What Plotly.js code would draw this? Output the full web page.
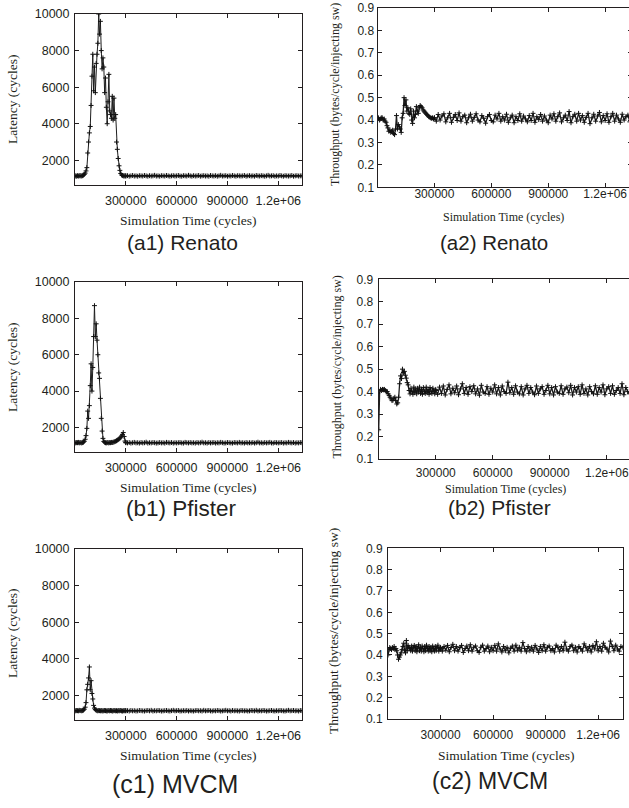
<!DOCTYPE html>
<html><head><meta charset="utf-8">
<script src="https://cdn.plot.ly/plotly-3.0.1.min.js"></script>
<style>html,body{margin:0;padding:0;overflow:hidden;background:#fff;width:629px;height:808px}#chart{width:636px;height:808px}</style>
</head><body><div id="chart"></div>
<script>
// ---- sampling of the simulation time axis ----
const EARLY_START = 0, EARLY_STEP = 5000;      // 0 .. 300000
const LATE_START = 300000, LATE_STEP = 10000;  // 300000 .. 1340000
const X_RANGE = [0, 1340000];
const xTickVals = [300000, 600000, 900000, 1200000];
const xTickText = ['300000', '600000', '900000', '1.2e+06'];
const latTickVals = [2000, 4000, 6000, 8000, 10000];
const latRange = [650, 10000];
const thrTickVals = [0.1, 0.2, 0.3, 0.4, 0.5, 0.6, 0.7, 0.8, 0.9];
const thrTickText = ['0.1', '0.2', '0.3', '0.4', '0.5', '0.6', '0.7', '0.8', '0.9'];
const thrRange = [0.1, 0.9];

// ---- latency (cycles) ----
const renatoLatEarly = [1140,1150,1130,1160,1140,1150,1170,1140,1150,1160,
 1190,1230,1300,1420,1600,2400,3000,3500,3850,5000,
 6600,7800,5800,7100,5700,7300,7800,8400,10000,8900,
 9600,8000,7000,7600,7100,5700,6500,4900,4000,5200,
 6700,4700,4500,4300,5500,4200,5400,4300,4500,3000,
 2600,2100,1700,1450,1280,1200,1170,1150,1140,1160,
 1150];
const renatoLatLate = [1140,1160,1130,1150,1170,1140,1150,1130,1160,1150,
 1140,1170,1150,1130,1160,1140,1150,1180,1140,1150,
 1130,1160,1150,1140,1170,1150,1130,1150,1160,1140,
 1150,1170,1140,1130,1160,1150,1140,1180,1150,1130,
 1160,1140,1150,1170,1130,1150,1160,1140,1150,1130,
 1170,1150,1140,1160,1130,1150,1180,1140,1150,1160,
 1130,1150,1140,1170,1150,1130,1160,1150,1140,1150,
 1170,1130,1150,1160,1140,1150,1130,1170,1150,1140,
 1160,1150,1130,1150,1180,1140,1150,1160,1130,1150,
 1140,1170,1150,1130,1160,1150,1140,1150,1170,1130,
 1150,1160,1140,1150,1150];
const pfisterLatEarly = [1160,1150,1170,1160,1180,1150,1170,1160,1150,1170,
 1190,1240,1350,1550,1950,2900,2500,3200,4300,5500,
 4000,5300,7000,8700,7000,7700,6800,6000,5000,4700,
 3600,2500,1800,1400,1230,1180,1160,1150,1170,1160,
 1150,1170,1160,1180,1170,1190,1200,1220,1240,1270,
 1300,1330,1370,1410,1460,1530,1620,1720,1500,1250,
 1170];
const pfisterLatLate = [1160,1150,1170,1140,1160,1180,1150,1160,1140,1170,
 1150,1160,1190,1140,1160,1150,1170,1160,1140,1150,
 1170,1150,1160,1140,1180,1160,1150,1170,1140,1160,
 1150,1160,1170,1150,1140,1180,1160,1150,1170,1150,
 1160,1140,1170,1150,1160,1190,1150,1160,1140,1170,
 1150,1160,1170,1140,1160,1150,1180,1160,1140,1150,
 1170,1160,1150,1140,1170,1160,1150,1180,1150,1160,
 1140,1170,1150,1160,1150,1170,1140,1160,1190,1150,
 1160,1140,1170,1150,1160,1180,1150,1140,1170,1160,
 1150,1160,1170,1140,1160,1150,1180,1160,1150,1170,
 1140,1160,1150,1170,1160];
const mvcmLatEarly = [1160,1150,1170,1160,1150,1180,1160,1170,1150,1170,
 1190,1240,1350,1600,2300,2600,2950,3550,2300,2800,
 2100,1800,1450,1300,1220,1180,1160,1150,1170,1160,
 1150,1170,1140,1160,1150,1170,1160,1150,1140,1170,
 1160,1150,1170,1160,1140,1150,1170,1160,1150,1160,
 1140,1170,1150,1160,1170,1150,1140,1160,1150,1170,
 1160];
const mvcmLatLate = [1150,1160,1140,1170,1150,1160,1140,1150,1170,1160,
 1150,1140,1160,1170,1150,1180,1140,1160,1150,1170,
 1160,1140,1150,1160,1170,1150,1140,1160,1180,1150,
 1160,1170,1140,1150,1160,1150,1170,1140,1160,1150,
 1140,1160,1170,1150,1160,1140,1180,1150,1160,1170,
 1150,1140,1160,1150,1170,1160,1140,1150,1160,1180,
 1150,1160,1140,1170,1150,1160,1150,1140,1170,1160,
 1150,1160,1140,1150,1170,1160,1150,1180,1140,1160,
 1150,1170,1160,1140,1150,1160,1170,1150,1140,1160,
 1150,1170,1160,1150,1140,1160,1180,1150,1160,1170,
 1150,1160,1140,1170,1160];

// ---- throughput (bytes/cycle/injecting sw) ----
const renatoThrEarly = [0.40,0.41,0.40,0.405,0.41,0.41,0.40,0.405,0.395,0.39,
 0.375,0.365,0.35,0.355,0.345,0.35,0.355,0.34,0.335,0.36,
 0.42,0.36,0.38,0.37,0.36,0.345,0.41,0.43,0.50,0.465,
 0.49,0.44,0.455,0.43,0.425,0.45,0.40,0.385,0.44,0.41,
 0.425,0.46,0.44,0.43,0.455,0.465,0.46,0.455,0.445,0.44,
 0.435,0.43,0.425,0.42,0.415,0.413,0.41,0.408,0.41,0.405,
 0.41];
const renatoThrLate = [0.410,0.395,0.425,0.400,0.418,0.428,0.392,0.410,0.430,0.390,
 0.412,0.425,0.398,0.432,0.395,0.415,0.422,0.388,0.410,0.426,
 0.395,0.412,0.428,0.400,0.392,0.420,0.408,0.386,0.415,0.425,
 0.398,0.392,0.422,0.405,0.430,0.395,0.415,0.400,0.426,0.390,
 0.410,0.422,0.388,0.415,0.398,0.428,0.395,0.418,0.405,0.392,
 0.420,0.398,0.430,0.390,0.415,0.402,0.425,0.395,0.418,0.400,
 0.388,0.422,0.405,0.428,0.395,0.415,0.432,0.392,0.410,0.422,
 0.398,0.438,0.388,0.415,0.426,0.395,0.430,0.400,0.420,0.390,
 0.412,0.430,0.384,0.410,0.426,0.395,0.418,0.434,0.392,0.420,
 0.398,0.428,0.390,0.415,0.430,0.395,0.422,0.405,0.390,0.426,
 0.400,0.415,0.422,0.392,0.412];
const pfisterThrEarly = [0.23,0.40,0.41,0.405,0.41,0.408,0.41,0.405,0.40,0.40,
 0.39,0.383,0.375,0.368,0.36,0.362,0.37,0.375,0.36,0.345,
 0.35,0.375,0.435,0.47,0.458,0.50,0.485,0.49,0.473,0.46,
 0.44,0.43,0.405,0.39,0.415,0.40,0.388,0.42,0.395,0.412,
 0.39,0.415,0.398,0.42,0.392,0.41,0.388,0.418,0.40,0.392,
 0.42,0.395,0.41,0.388,0.418,0.40,0.392,0.415,0.40,0.39,
 0.41];
const pfisterThrLate = [0.405,0.388,0.420,0.392,0.425,0.385,0.410,0.430,0.390,0.415,
 0.395,0.425,0.386,0.412,0.435,0.392,0.418,0.388,0.422,0.400,
 0.426,0.390,0.412,0.384,0.428,0.398,0.392,0.422,0.388,0.415,
 0.398,0.430,0.390,0.418,0.385,0.425,0.400,0.392,0.442,0.395,
 0.418,0.388,0.426,0.398,0.390,0.422,0.385,0.412,0.428,0.392,
 0.418,0.398,0.386,0.425,0.392,0.412,0.422,0.388,0.405,0.428,
 0.390,0.418,0.385,0.422,0.398,0.392,0.426,0.388,0.412,0.420,
 0.395,0.428,0.385,0.418,0.398,0.422,0.388,0.430,0.392,0.412,
 0.385,0.422,0.400,0.390,0.426,0.388,0.418,0.398,0.430,0.386,
 0.412,0.422,0.392,0.426,0.388,0.405,0.418,0.392,0.435,0.386,
 0.418,0.400,0.390,0.422,0.405];
const mvcmThrEarly = [0.40,0.425,0.435,0.43,0.425,0.435,0.43,0.44,0.425,0.43,
 0.42,0.40,0.38,0.39,0.40,0.41,0.425,0.44,0.455,0.42,
 0.41,0.468,0.42,0.445,0.435,0.43,0.42,0.442,0.418,0.436,
 0.445,0.42,0.44,0.415,0.432,0.448,0.42,0.436,0.418,0.442,
 0.43,0.415,0.44,0.42,0.446,0.43,0.418,0.44,0.42,0.436,
 0.415,0.442,0.43,0.418,0.44,0.42,0.436,0.446,0.418,0.43,
 0.435];
const mvcmThrLate = [0.430,0.418,0.440,0.422,0.445,0.415,0.435,0.450,0.420,0.440,
 0.418,0.435,0.445,0.412,0.430,0.442,0.420,0.448,0.418,0.436,
 0.442,0.420,0.412,0.436,0.446,0.418,0.430,0.442,0.415,0.436,
 0.420,0.445,0.418,0.452,0.428,0.414,0.440,0.420,0.436,0.410,
 0.430,0.442,0.418,0.446,0.422,0.436,0.418,0.458,0.430,0.415,
 0.440,0.420,0.436,0.418,0.445,0.428,0.412,0.440,0.420,0.448,
 0.418,0.436,0.442,0.420,0.430,0.414,0.446,0.436,0.418,0.440,
 0.420,0.460,0.428,0.418,0.440,0.446,0.420,0.436,0.414,0.440,
 0.430,0.418,0.452,0.436,0.420,0.440,0.414,0.445,0.428,0.462,
 0.420,0.440,0.418,0.455,0.436,0.428,0.414,0.465,0.440,0.420,
 0.446,0.428,0.418,0.440,0.436];

const captions = ['(a1) Renato', '(a2) Renato', '(b1) Pfister', '(b2) Pfister', '(c1) MVCM', '(c2) MVCM'];
const latTitle = 'Latency (cycles)';
const thrTitle = 'Throughput (bytes/cycle/injecting sw)';
const xTitle = 'Simulation Time (cycles)';

// ---- layout geometry (pixels) ----
const W = 636, H = 808;
const X = px => px / W, Y = py => 1 - py / H;
const SANS = '"Liberation Sans", Arial, sans-serif';
const SERIF = '"Liberation Serif", "Times New Roman", serif';
const INK = '#231f20';

const panels = [
  {early: renatoLatEarly, late: renatoLatLate, kind: 'lat', box: [75, 302, 14, 185],
   cap: [182, 243], cf: 21, yt: [12, 99], xt: [188.5, 220], tf: 13.5, xs: 4, ys: 2, tick: 12.5, lw: 1},
  {early: renatoThrEarly, late: renatoThrLate, kind: 'thr', box: [377.5, 631.7, 8, 187.3],
   cap: [494, 242], cf: 20.5, yt: [335, 95], xt: [503, 217], tf: 12, yf: 12, xs: -5, ys: 0, tick: 12, lw: 1.3},
  {early: pfisterLatEarly, late: pfisterLatLate, kind: 'lat', box: [75, 302, 282, 452],
   cap: [181, 508], cf: 22.5, yt: [12, 367], xt: [188.5, 487], tf: 13.5, xs: 4, ys: 2, tick: 12.5, lw: 1},
  {early: pfisterThrEarly, late: pfisterThrLate, kind: 'thr', box: [378.7, 633.4, 279.3, 459],
   cap: [499.5, 507], cf: 21, yt: [336.5, 367], xt: [505, 489], tf: 12, yf: 12, xs: 3, ys: 2, tick: 12, lw: 1.3},
  {early: mvcmLatEarly, late: mvcmLatLate, kind: 'lat', box: [75, 302, 549, 720],
   cap: [175, 784], cf: 25, yt: [12, 633], xt: [188.5, 755], tf: 13.5, xs: 4, ys: 2, tick: 12.5, lw: 1},
  {early: mvcmThrEarly, late: mvcmThrLate, kind: 'thr', box: [388, 622.7, 548.3, 719],
   cap: [490, 781], cf: 23, yt: [333, 631], xt: [506, 755], tf: 13.5, yf: 13.5, xs: 5, ys: 2, tick: 12, lw: 1.3},
];

const data = [];
const layout = {
  width: W, height: H, margin: {l: 0, r: 0, t: 0, b: 0},
  paper_bgcolor: '#fff', plot_bgcolor: '#fff', showlegend: false,
  font: {family: SANS, color: INK}, annotations: []
};

panels.forEach((p, i) => {
  const n = i + 1, sfx = n === 1 ? '' : String(n);
  const common = {
    mode: 'lines+markers', xaxis: 'x' + sfx, yaxis: 'y' + sfx, hoverinfo: 'skip',
    line: {color: '#1e1e1e', width: p.lw},
    marker: {symbol: 'cross-thin', size: 3.5, color: '#111', line: {color: '#111', width: 1}}
  };
  data.push(Object.assign({y: p.early, x0: EARLY_START, dx: EARLY_STEP}, common));
  data.push(Object.assign({y: p.late, x0: LATE_START, dx: LATE_STEP}, common));
  const [x0, x1, y0, y1] = p.box;
  const ax = {
    showline: true, mirror: 'ticks', linecolor: INK, linewidth: 1,
    ticks: 'inside', ticklen: 4, tickcolor: INK, tickwidth: 1,
    showgrid: false, zeroline: false, fixedrange: true
  };
  layout['xaxis' + sfx] = Object.assign({}, ax, {
    domain: [X(x0), X(x1)], anchor: 'y' + sfx, range: X_RANGE,
    tickmode: 'array', tickvals: xTickVals, ticktext: xTickText,
    tickfont: {family: SANS, size: p.tick, color: INK}, ticklabelstandoff: p.xs
  });
  layout['yaxis' + sfx] = Object.assign({}, ax, {
    domain: [Y(y1), Y(y0)], anchor: 'x' + sfx,
    range: p.kind === 'lat' ? latRange : thrRange,
    tickmode: 'array',
    tickvals: p.kind === 'lat' ? latTickVals : thrTickVals,
    ticktext: p.kind === 'lat' ? latTickVals.map(String) : thrTickText,
    tickfont: {family: SANS, size: p.tick, color: INK}, ticklabelstandoff: p.ys
  });
  layout.annotations.push({
    text: p.kind === 'lat' ? latTitle : thrTitle, xref: 'paper', yref: 'paper',
    x: X(p.yt[0]), y: Y(p.yt[1]), textangle: -90, showarrow: false,
    xanchor: 'center', yanchor: 'middle',
    font: {family: SERIF, size: p.yf || p.tf, color: INK}
  });
  layout.annotations.push({
    text: xTitle, xref: 'paper', yref: 'paper', x: X(p.xt[0]), y: Y(p.xt[1]),
    showarrow: false, xanchor: 'center', yanchor: 'middle',
    font: {family: SERIF, size: p.tf, color: INK}
  });
  layout.annotations.push({
    text: captions[i], xref: 'paper', yref: 'paper', x: X(p.cap[0]), y: Y(p.cap[1]),
    showarrow: false, xanchor: 'center', yanchor: 'middle',
    font: {family: SANS, size: p.cf, color: INK}
  });
});

Plotly.newPlot('chart', data, layout, {staticPlot: true, displayModeBar: false});
</script></body></html>
